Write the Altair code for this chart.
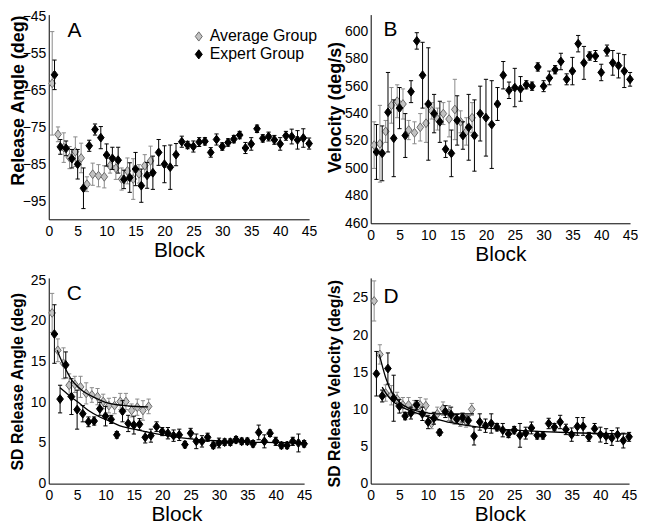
import altair as alt
import pandas as pd

FONT = "Liberation Sans"

blocks_avg = list(range(1, 19))
blocks_exp = list(range(1, 46))
groups = ["Average Group", "Expert Group"]

# Panel A: Release angle (deg)
A_avg_m = [-63.0, -76.8, -80.4, -83.1, -81.5, -83.2, -90.3, -87.6, -88.0, -88.3, -85.3, -86.0, -88.9, -86.7, -88.9, -87.5, -85.3, -84.0]
A_avg_e = [14.0, 2.0, 4.0, 3.0, 4.0, 4.0, 2.0, 3.0, 3.0, 3.0, 2.0, 3.0, 3.0, 3.5, 5.5, 2.5, 3.0, 4.0]
A_exp_m = [-60.7, -80.2, -80.6, -83.4, -84.9, -91.4, -79.9, -75.5, -77.7, -82.4,
           -83.3, -83.8, -89.0, -88.5, -86.2, -90.7, -87.9, -87.2, -81.7, -84.9,
           -85.7, -82.3, -78.8, -79.7, -80.1, -78.9, -78.7, -81.7, -78.2, -80.1,
           -79.0, -78.1, -77.0, -80.5, -79.4, -75.3, -77.9, -77.4, -78.3, -79.4,
           -77.2, -77.4, -78.3, -77.8, -79.3]
A_exp_e = [4.0, 2.0, 2.0, 2.5, 4.0, 5.5, 1.5, 1.5, 3.0, 3.0, 3.0, 3.5, 2.5, 4.0, 4.5,
           4.5, 3.5, 4.5, 3.5, 5.0, 6.0, 3.0, 1.5, 1.0, 1.5, 1.2, 1.0, 1.3, 1.5, 1.0,
           1.0, 1.0, 1.0, 1.5, 1.7, 1.0, 1.0, 1.2, 1.2, 1.7, 1.2, 2.0, 2.5, 2.5, 1.5]

# Panel B: Velocity (deg/s)
B_avg_m = [517, 518, 527, 546, 549, 547, 528, 526, 530, 533, 542, 536, 540, 536, 543, 534, 527, 537]
B_avg_e = [17, 28, 8, 13, 12, 11, 7, 8, 10, 14, 6, 8, 8, 13, 22, 8, 10, 11]
B_exp_m = [512, 511, 541, 522, 544, 524, 556, 593, 568, 547,
           540, 534, 514, 511, 535, 524, 530, 524, 540, 537,
           532, 547, 568, 557, 559, 558, 561, 560, 574, 560,
           566, 572, 578, 565, 571, 591, 577, 582, 582, 570,
           586, 577, 575, 571, 565]
B_exp_e = [20, 20, 29, 28, 15, 16, 8, 6, 24, 41, 14, 15, 6, 17, 18, 10, 24, 26, 20, 28,
           32, 12, 10, 6, 14, 9, 3, 3, 3, 4, 5, 3, 6, 4, 10, 6, 12, 3, 4, 6, 4, 9, 9, 12, 5]

# Panel C: SD release angle (deg)
C_avg_m = [21.0, 16.4, 14.8, 12.1, 12.2, 11.9, 11.1, 10.9, 10.7, 10.1, 9.6, 9.6, 10.1, 10.1, 9.0, 9.4, 9.0, 9.5]
C_avg_e = [2.4, 1.4, 1.9, 1.4, 1.0, 1.3, 1.3, 0.9, 1.0, 0.9, 0.9, 1.0, 1.0, 1.0, 0.8, 1.0, 1.2, 0.9]
C_exp_m = [18.4, 10.4, 14.6, 10.7, 9.1, 8.6, 7.6, 7.7, 9.2, 8.3,
           7.9, 6.0, 8.9, 7.4, 7.2, 7.3, 5.7, 5.9, 7.0, 6.4,
           6.2, 5.9, 6.0, 4.8, 6.2, 5.2, 5.2, 5.7, 4.7, 5.0,
           5.1, 5.1, 5.4, 5.2, 5.2, 4.9, 6.3, 5.2, 6.2, 5.2,
           4.7, 4.7, 5.2, 5.0, 4.9]
C_exp_e = [3.6, 1.7, 1.6, 2.2, 2.4, 1.0, 0.6, 0.5, 0.8, 1.2, 0.5, 0.4, 1.3, 1.0, 1.1,
           0.7, 0.7, 0.8, 0.6, 0.5, 0.7, 0.7, 0.7, 0.4, 0.6, 0.9, 0.7, 0.5, 0.4, 0.6,
           0.4, 0.4, 0.4, 0.4, 0.4, 0.4, 0.9, 0.8, 0.4, 0.5, 0.4, 0.4, 0.5, 1.1, 0.4]
C_fit_avg_x = [1.5, 2, 2.75, 3.5, 4, 5, 6, 8, 10, 12, 14, 17.5]
C_fit_avg_y = [16.4, 15.5, 14.4, 13.4, 12.8, 12.0, 11.4, 10.6, 10.0, 9.7, 9.55, 9.45]
C_fit_exp_x = [2, 3, 4, 5, 7, 9, 11, 13, 15, 17, 20, 25, 30, 35, 40, 45]
C_fit_exp_y = [11.8, 11.2, 10.6, 10.1, 9.0, 8.2, 7.6, 7.0, 6.7, 6.4, 6.0, 5.5, 5.25, 5.1, 5.05, 5.0]

# Panel D: SD release velocity (deg/s)
D_avg_m = [24.6, 17.4, 12.2, 11.9, 11.4, 10.6, 10.6, 10.3, 10.6, 10.5, 8.1, 9.4, 10.1, 9.5, 8.6, 8.3, 8.4, 10.0]
D_avg_e = [2.7, 1.3, 1.1, 1.3, 0.9, 1.0, 1.0, 0.9, 1.0, 0.9, 0.7, 0.9, 0.9, 1.0, 0.6, 0.6, 0.8, 0.8]
D_exp_m = [14.8, 11.8, 15.5, 11.5, 10.4, 9.1, 9.5, 10.6, 9.4, 8.3,
           8.8, 6.9, 9.7, 9.3, 8.7, 8.9, 8.5, 6.4, 8.3, 7.8,
           8.1, 7.6, 7.2, 6.7, 7.2, 6.5, 6.8, 7.5, 6.5, 6.5,
           8.1, 7.6, 8.3, 7.3, 6.6, 7.7, 7.7, 6.3, 7.4, 6.6,
           6.4, 6.15, 6.6, 5.8, 6.3]
D_exp_e = [3.0, 0.8, 2.1, 3.1, 0.9, 0.5, 0.8, 0.6, 0.9, 0.9, 0.8, 0.4, 0.8, 1.0, 0.6,
           0.6, 0.6, 1.2, 1.1, 0.9, 1.3, 0.5, 0.9, 0.5, 0.5, 1.6, 0.8, 0.8, 0.5, 0.5,
           0.7, 0.5, 0.9, 0.7, 0.9, 1.2, 1.2, 0.6, 0.7, 1.0, 1.0, 1.0, 0.9, 1.0, 0.6]
D_fit_avg_x = [1.5, 2.6, 3.8, 5, 6, 8, 10, 11, 14, 18]
D_fit_avg_y = [17.4, 14.3, 12.1, 11.0, 10.4, 9.8, 9.5, 9.4, 9.4, 9.4]
D_fit_exp_x = [2, 3, 4, 5, 6, 8, 10, 12, 14, 17, 20, 25, 30, 35, 40, 45]
D_fit_exp_y = [13.0, 11.8, 11.0, 10.5, 10.1, 9.5, 9.0, 8.6, 8.2, 7.8, 7.5, 7.2, 7.0, 6.85, 6.75, 6.7]

DIAMOND = "M0,-1.25L0.95,0L0,1.25L-0.95,0Z"
GRAY_FILL = "#c2c2c2"
GRAY_EDGE = "#6a6a6a"
GRAY_BAR = "#8a8a8a"

legend = alt.Legend(title=None, orient="none", legendX=143, legendY=14,
                    symbolType=DIAMOND, symbolSize=55, symbolStrokeWidth=1,
                    labelFont=FONT, labelFontSize=16, labelColor="black",
                    labelOffset=3, rowPadding=2)
fill_enc = alt.Fill("group:N", scale=alt.Scale(domain=groups, range=[GRAY_FILL, "black"]), legend=legend)
stroke_enc = alt.Stroke("group:N", scale=alt.Scale(domain=groups, range=[GRAY_EDGE, "black"]), legend=legend)


def panel(avg_m, avg_e, exp_m, exp_e, ydom, yticks, ytitle, tsize, letter, w, h,
          tx, ty, lx, ly, fits):
    xs = alt.Scale(domain=[0, 45], nice=False, zero=False, padding=0)
    ys = alt.Scale(domain=ydom, nice=False, zero=False, padding=0)
    xaxis = alt.Axis(values=list(range(0, 46, 5)), title="Block", titleFontSize=21,
                     titleFontWeight="normal", titlePadding=1, labelPadding=5, labelFlush=False,
                     labelFontSize=14, labelFont=FONT, titleFont=FONT, labelColor="black",
                     titleColor="black", domainColor="black", ticks=False, grid=False)
    yaxis = alt.Axis(values=yticks, title=ytitle, titleFontSize=tsize, titleFontWeight="bold",
                     titleX=tx, titleY=ty, labelPadding=3, labelFlush=False,
                     labelFontSize=14, labelFont=FONT, titleFont=FONT, labelColor="black",
                     titleColor="black", domainColor="black", ticks=False, grid=False)
    layers = []
    for bl, m, e, g, dodge, barc in [(blocks_avg, avg_m, avg_e, groups[0], -0.4, GRAY_BAR),
                                    (blocks_exp, exp_m, exp_e, groups[1], 0.0, "black")]:
        df = pd.DataFrame({"block": bl, "mean": m, "err": e, "group": g})
        base = alt.Chart(df).transform_calculate(
            xp=f"datum.block + ({dodge})",
            lo="datum.mean - datum.err",
            hi="datum.mean + datum.err")
        X = alt.X("xp:Q", scale=xs, axis=xaxis)
        layers.append(base.mark_rule(color=barc, strokeWidth=1).encode(
            x=X, y=alt.Y("lo:Q", scale=ys, axis=yaxis), y2="hi:Q"))
        for f in ["lo", "hi"]:
            layers.append(base.mark_point(shape="stroke", size=18, color=barc, strokeWidth=1,
                                          opacity=1).encode(
                x=X, y=alt.Y(f"{f}:Q", scale=ys, axis=yaxis)))
        layers.append(base.mark_point(shape=DIAMOND, size=50, filled=True, opacity=1,
                                      strokeWidth=1).encode(
            x=X, y=alt.Y("mean:Q", scale=ys, axis=yaxis), fill=fill_enc, stroke=stroke_enc))
    for fx, fy in fits:
        fdf = pd.DataFrame({"x": fx, "y": fy})
        layers.append(alt.Chart(fdf).mark_line(color="black", strokeWidth=1.3,
                                               interpolate="monotone").encode(
            x=alt.X("x:Q", scale=xs, axis=xaxis), y=alt.Y("y:Q", scale=ys, axis=yaxis)))
    lab = alt.Chart(pd.DataFrame({"t": [letter]})).mark_text(
        align="left", baseline="alphabetic", fontSize=21, font=FONT, color="black").encode(
        text="t:N", x=alt.value(lx), y=alt.value(ly))
    layers.append(lab)
    return alt.layer(*layers).properties(width=w, height=h)


pA = panel(A_avg_m, A_avg_e, A_exp_m, A_exp_e, [-99.8, -44.4], [-95, -85, -75, -65, -55, -45],
           "Release Angle (deg)", 18, "A", 262, 206, -21, 86, 19, 23, [])
pB = panel(B_avg_m, B_avg_e, B_exp_m, B_exp_e, [460, 612.2], list(range(460, 601, 20)),
           "Velocity (deg/s)", 18, "B", 261, 210, -26, 93, 13, 22, [])
pC = panel(C_avg_m, C_avg_e, C_exp_m, C_exp_e, [0, 25.3], [0, 5, 10, 15, 20, 25],
           "SD Release Angle (deg)", 16, "C", 257, 207, -23, 104, 18, 22,
           [(C_fit_avg_x, C_fit_avg_y), (C_fit_exp_x, C_fit_exp_y)])
pD = panel(D_avg_m, D_avg_e, D_exp_m, D_exp_e, [0, 27.7], [0, 5, 10, 15, 20, 25],
           "SD Release Velocity (deg/s)", 16, "D", 260, 207, -28, 106, 13, 25,
           [(D_fit_avg_x, D_fit_avg_y), (D_fit_exp_x, D_fit_exp_y)])

chart = alt.concat(pA, pB, pC, pD, columns=2, spacing={"row": 9, "column": 9}).resolve_scale(
    fill="shared", stroke="shared").properties(
    padding={"left": 2, "top": 0, "right": 0, "bottom": 0}, background="white"
).configure_view(stroke=None)

chart.save("out.html", embed_options={"renderer": "svg", "actions": False})
